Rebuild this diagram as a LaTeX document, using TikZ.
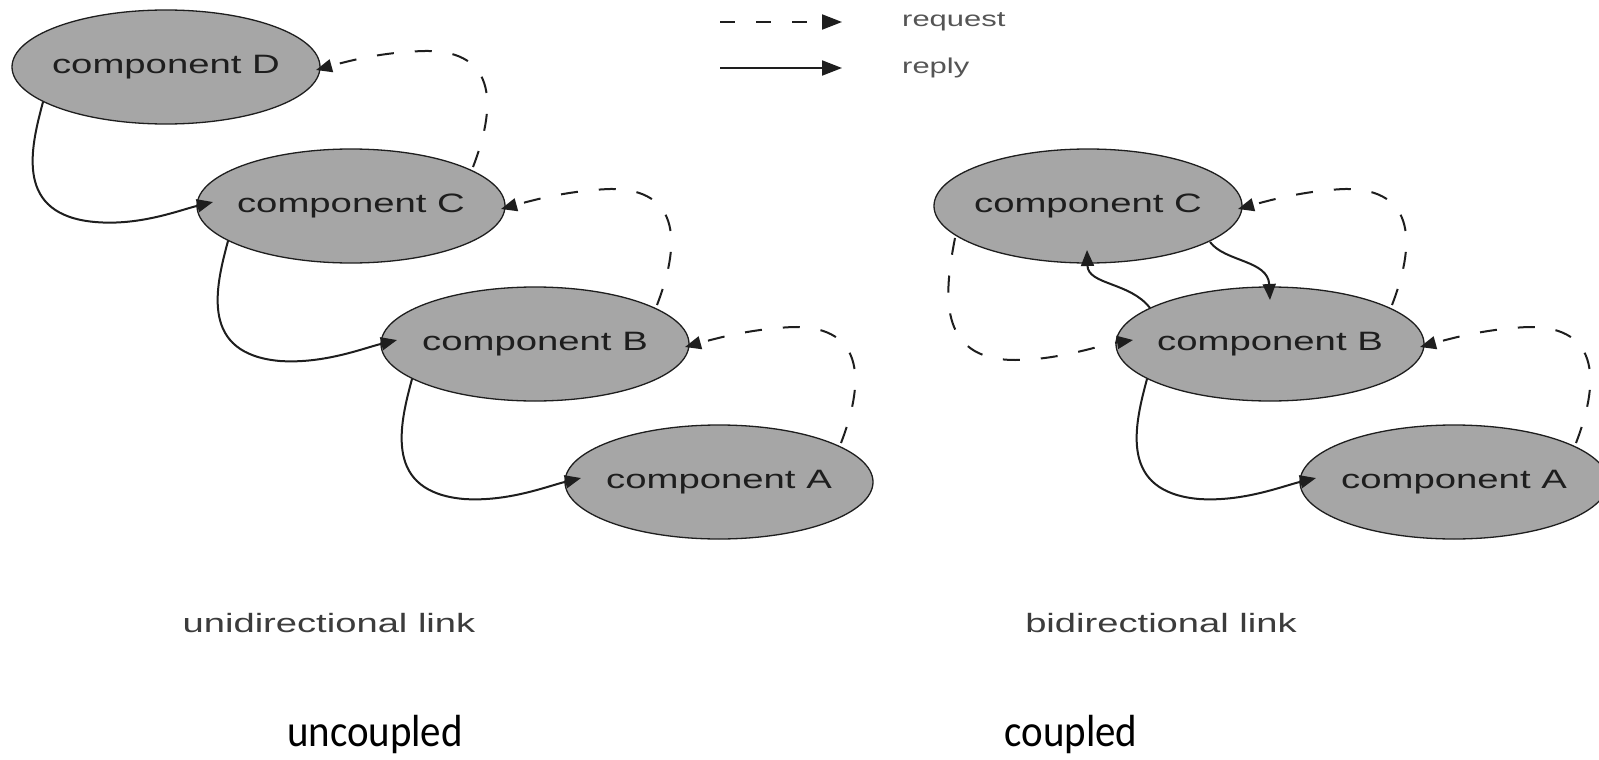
\documentclass[tikz,border=0pt]{standalone}
\usepackage{fontspec}
\usetikzlibrary{shapes.geometric,arrows.meta,calc}
\newfontfamily\compfont[FakeStretch=1.44]{Liberation Sans}
\newfontfamily\calfont[FakeStretch=0.91]{Carlito}
\definecolor{ellfill}{RGB}{166,166,166}
\definecolor{inkc}{RGB}{30,30,30}
\definecolor{capgray}{RGB}{60,60,60}
\definecolor{leggray}{RGB}{85,85,85}
\tikzset{
  comp/.style={ellipse, draw=inkc, line width=1.3pt, fill=ellfill,
    minimum width=308pt, minimum height=114pt, inner sep=0pt,
    font=\compfont\fontsize{26.6}{30}\selectfont, text=inkc},
  reply/.style={draw=inkc, line width=2pt, -{Triangle[length=16pt,width=13pt]}},
  request/.style={reply, dash pattern=on 17pt off 21pt},
  legreq/.style={draw=inkc, line width=2pt, dash pattern=on 15pt off 21pt, -{Triangle[length=20pt,width=15pt]}},
  legrep/.style={draw=inkc, line width=2pt, -{Triangle[length=20pt,width=15pt]}},
  legtext/.style={font=\compfont\fontsize{21.5}{25}\selectfont, text=leggray, anchor=base west, inner sep=0pt},
  captext/.style={font=\compfont\fontsize{26.5}{30}\selectfont, text=capgray, anchor=base, inner sep=0pt},
  bigtext/.style={font=\calfont\fontsize{45}{50}\selectfont, text=black, anchor=base, inner sep=0pt}
}
% #1 upper node, #2 lower node
\newcommand{\replylink}[2]{%
  \draw[reply] ($(#1.center)+(-123,35)$) .. controls ($(#1.center)+(-136,83)$) and ($(#1.center)+(-151,148)$) .. ($(#1.center)+(-71,155)$)
    .. controls ($(#2.center)+(-211,20)$) and ($(#2.center)+(-171,4)$) .. ($(#2.center)+(-138,-4)$);}
% #1 lower node (source), #2 upper node (target)
\newcommand{\requestlink}[2]{%
  \draw[request] ($(#1.center)+(122,-39)$) .. controls ($(#1.center)+(144,-96)$) and ($(#1.center)+(149,-156)$) .. ($(#1.center)+(74,-155)$)
    .. controls ($(#2.center)+(214,-15)$) and ($(#2.center)+(179,-5)$) .. ($(#2.center)+(150,3)$);}
\begin{document}
\begin{tikzpicture}[x=1pt,y=-1pt]
\fill[white] (0,0) rectangle (1599,760);
\useasboundingbox (0,0) rectangle (1599,760);

% left: uncoupled
\node[comp] (lD) at (166,67) {\makebox[0pt]{component D}};
\node[comp] (lC) at (351,206) {\makebox[0pt]{component C}};
\node[comp] (lB) at (535,344) {\makebox[0pt]{component B}};
\node[comp] (lA) at (719,482) {\makebox[0pt]{component A}};

\replylink{lD}{lC}
\replylink{lC}{lB}
\replylink{lB}{lA}
\requestlink{lC}{lD}
\requestlink{lB}{lC}
\requestlink{lA}{lB}

% right: coupled
\node[comp] (rC) at (1088,206) {\makebox[0pt]{component C}};
\node[comp] (rB) at (1270,344) {\makebox[0pt]{component B}};
\node[comp] (rA) at (1454,482) {\makebox[0pt]{component A}};

\replylink{rB}{rA}
\requestlink{rB}{rC}
\requestlink{rA}{rB}
\draw[request] ($(rC.center)+(-133,32)$) .. controls ($(rC.center)+(-143,84)$) and ($(rC.center)+(-153,154)$) .. ($(rC.center)+(-73,154)$)
  .. controls ($(rB.center)+(-210,16)$) and ($(rB.center)+(-170,1)$) .. ($(rB.center)+(-137,-4)$);
\draw[reply] ($(rB.center)+(-120,-36)$) .. controls ($(rB.center)+(-140,-62)$) and ($(rC.center)+(0,79)$) .. ($(rC.center)+(-1,44)$);
\draw[reply] ($(rC.center)+(122,36)$) .. controls ($(rC.center)+(137,56)$) and ($(rB.center)+(-2,-84)$) .. ($(rB.center)+(0,-44)$);

% legend
\coordinate (lq1) at (720,22);
\coordinate (lq2) at (842,22);
\coordinate (lp1) at (720,68);
\coordinate (lp2) at (842,68);
\draw[legreq] (lq1) -- (lq2);
\draw[legrep] (lp1) -- (lp2);
\node[legtext] (treq) at (902,27) {request};
\node[legtext] (trep) at (902,74) {reply};

% captions
\node[captext] (uni) at (329,632) {unidirectional link};
\node[captext] (bi) at (1161,632) {bidirectional link};
\node[bigtext] (unc) at (375,746) {uncoupled};
\node[bigtext] (cou) at (1071,746) {coupled};
\end{tikzpicture}
\end{document}
